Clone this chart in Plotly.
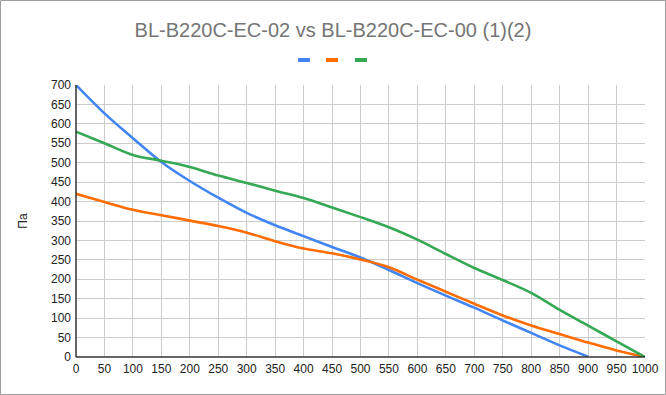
import plotly.graph_objects as go

x_vals = [0, 50, 100, 150, 200, 250, 300, 350, 400, 450, 500, 550, 600, 650, 700, 750, 800, 850, 900, 950, 1000]
blue = [700, 627, 563, 502, 453, 410, 371, 339, 311, 283, 256, 224, 190, 158, 127, 94, 62, 30, 1]
orange = [420, 399, 379, 365, 351, 337, 320, 298, 279, 267, 251, 231, 199, 168, 137, 107, 81, 59, 37, 17, 0]
green = [580, 550, 520, 505, 489, 467, 448, 428, 409, 385, 360, 334, 302, 265, 229, 198, 165, 121, 81, 40, 0]

series = [
    ("", blue, "#4285F4"),
    ("", orange, "#FF6D01"),
    ("", green, "#34A853"),
]

W, H = 666, 395
ml, mr, mt, mb = 76, 21, 85, 38
pw = W - ml - mr
ph = H - mt - mb

fig = go.Figure()
for name, ys, col in series:
    fig.add_trace(go.Scatter(
        x=x_vals[:len(ys)], y=ys, mode="lines", name=name,
        line=dict(color=col, width=2.6, shape="spline", smoothing=1.0),
        showlegend=False, hoverinfo="skip"))

def px_x(p):
    return (p - ml) / pw

def px_y(p):
    return 1 - (p - mt) / ph

shapes = [
    dict(type="line", xref="paper", yref="paper", x0=0, x1=1, y0=0, y1=0,
         line=dict(color="#333333", width=1.5)),
    dict(type="line", xref="paper", yref="paper", x0=0, x1=0, y0=0, y1=1,
         line=dict(color="#333333", width=1.5)),
    dict(type="rect", xref="paper", yref="paper",
         x0=px_x(0.5), x1=px_x(W - 0.5), y0=px_y(H - 0.5), y1=px_y(0.5),
         line=dict(color="#9e9e9e", width=1), fillcolor="rgba(0,0,0,0)", layer="above"),
]
# legend keys (the reference legend shows colour keys only)
legend_x = [298, 326, 355]
for (name, ys, col), lx in zip(series, legend_x):
    shapes.append(dict(type="line", xref="paper", yref="paper",
                       x0=px_x(lx), x1=px_x(lx + 12), y0=px_y(60), y1=px_y(60),
                       line=dict(color=col, width=4)))

fig.update_layout(
    width=W, height=H,
    margin=dict(l=ml, r=mr, t=mt, b=mb, autoexpand=False),
    paper_bgcolor="white", plot_bgcolor="white",
    font=dict(family="Liberation Sans, Arial", size=12, color="#222222"),
    title=dict(text="BL-B220C-EC-02 vs BL-B220C-EC-00 (1)(2)", x=0.5, xanchor="center",
               y=1 - 30 / H, yanchor="middle",
               font=dict(family="Liberation Sans, Arial", size=20, color="#757575")),
    showlegend=False,
    xaxis=dict(range=[0, 1000], dtick=50, tick0=0, showgrid=True, gridcolor="#cccccc",
               gridwidth=1, zeroline=False, showline=False, ticks="",
               ticklabelstandoff=3,
               tickfont=dict(size=12, color="#222222")),
    yaxis=dict(range=[0, 700], dtick=50, tick0=0, showgrid=True, gridcolor="#cccccc",
               gridwidth=1, zeroline=False, showline=False, ticks="",
               ticklabelstandoff=4,
               title=dict(text="Па", font=dict(size=12, color="#222222"), standoff=20),
               tickfont=dict(size=12, color="#222222")),
    shapes=shapes,
)

fig.write_html("out.html", config={"displayModeBar": False},
               post_script="document.body.style.margin='0';")
